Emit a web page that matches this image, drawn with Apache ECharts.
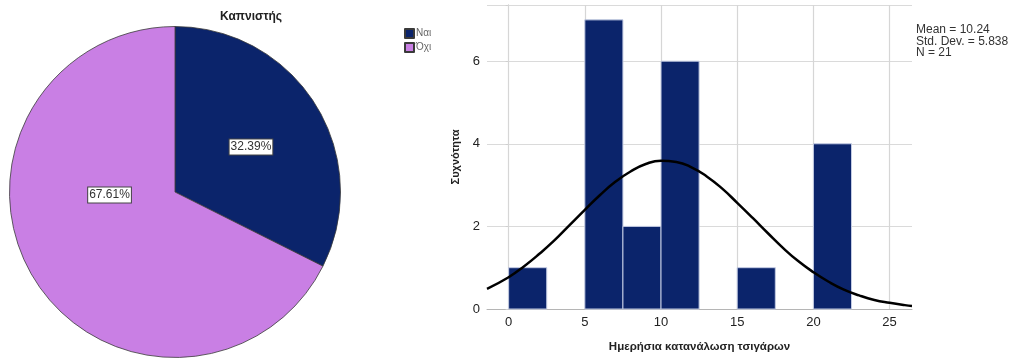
<!DOCTYPE html>
<html>
<head>
<meta charset="utf-8">
<script src="https://cdn.jsdelivr.net/npm/echarts@6/dist/echarts.min.js"></script>
<style>
html,body{margin:0;padding:0;background:#fff;}
#c{width:1009px;height:358px;}
</style>
</head>
<body>
<div id="c"></div>
<script>
// Pie data
const pieCategories = ['Ναι', 'Όχι'];
const pieCounts = [23, 48];
const pieColors = ['#0b246b', '#c97fe4'];

// Histogram data
const binStart = [0, 5, 7.5, 10, 15, 20];
const binEnd = [2.5, 7.5, 10, 12.5, 17.5, 22.5];
const binCounts = [1, 7, 2, 6, 1, 4];

// Normal curve
const curveX = [-1.42, 0, 1, 2, 3, 4, 5, 6, 7, 8, 9, 10, 11, 12, 13, 14, 15, 16, 17, 18, 19, 20, 21, 22, 23, 24, 25, 26, 26.47];
const curveY = [0.49, 0.77, 1.03, 1.33, 1.66, 2.03, 2.40, 2.76, 3.08, 3.33, 3.51, 3.59, 3.56, 3.43, 3.21, 2.92, 2.57, 2.21, 1.84, 1.48, 1.16, 0.89, 0.66, 0.47, 0.33, 0.22, 0.15, 0.094, 0.075];

const xTicks = [0, 5, 10, 15, 20, 25];
const yTicks = [0, 2, 4, 6];
const statsLines = ['Mean = 10.24', 'Std. Dev. = 5.838', 'N = 21'];

const FONT = '"Liberation Sans", Arial, sans-serif';

const chart = echarts.init(document.getElementById('c'), null, {renderer: 'canvas'});

const option = {
  animation: false,
  textStyle: {fontFamily: FONT},
  title: {
    text: 'Καπνιστής',
    left: 220, top: 11, padding: 0,
    textStyle: {fontSize: 12, fontWeight: 'bold', color: '#222', fontFamily: FONT}
  },
  legend: {
    orient: 'vertical',
    left: 404, top: 28, padding: 0,
    itemWidth: 9, itemHeight: 9, itemGap: 3,
    icon: 'rect',
    data: pieCategories,
    textStyle: {fontSize: 10, color: '#666', fontFamily: FONT, padding: [0, 0, 0, -3]}
  },
  grid: {left: 487, top: 5, right: 97, bottom: 49, containLabel: false},
  xAxis: {
    type: 'value',
    min: -1.42, max: 26.47,
    axisLine: {show: true, lineStyle: {color: '#b5b5b5', width: 1}},
    axisTick: {show: false},
    splitLine: {show: false},
    axisLabel: {customValues: xTicks, fontSize: 13, color: '#222', margin: 7, fontFamily: FONT},
    name: 'Ημερήσια κατανάλωση τσιγάρων',
    nameLocation: 'middle', nameGap: 32,
    nameTextStyle: {fontSize: 11.5, fontWeight: 'bold', color: '#222', fontFamily: FONT}
  },
  yAxis: {
    type: 'value',
    min: 0, max: 7.36, interval: 2,
    axisLine: {show: true, lineStyle: {color: '#b5b5b5', width: 1}},
    axisTick: {show: true, length: 3, lineStyle: {color: '#cfcfcf'}},
    splitLine: {show: true, lineStyle: {color: '#dadada', width: 1}},
    axisLabel: {fontSize: 13, color: '#222', margin: 7, fontFamily: FONT,
      formatter: v => yTicks.indexOf(v) >= 0 ? String(v) : ''},
    name: 'Συχνότητα',
    nameLocation: 'middle', nameGap: 26, nameRotate: 90,
    nameTextStyle: {fontSize: 11, fontWeight: 'bold', color: '#222', fontFamily: FONT}
  },
  graphic: [{
    type: 'text',
    left: 916, top: 24,
    style: {
      text: statsLines.join('\n'),
      font: '12px ' + FONT,
      lineHeight: 11.5,
      fill: '#333'
    }
  }],
  series: [
    {
      type: 'pie',
      center: [175, 192],
      radius: 165.5,
      startAngle: 90,
      clockwise: true,
      silent: true,
      data: pieCategories.map((n, i) => ({name: n, value: pieCounts[i], itemStyle: {color: pieColors[i]}})),
      itemStyle: {borderColor: '#3a3a3a', borderWidth: 0.8},
      label: {
        show: true,
        position: 'inside',
        formatter: '{d}%',
        fontSize: 12,
        color: '#333',
        fontFamily: FONT,
        backgroundColor: '#fff',
        borderColor: '#444',
        borderWidth: 1,
        padding: [2, 1, 1, 1]
      },
      labelLine: {show: false},
      labelLayout: function (p) {
        if (p.dataIndex === 0) return {dx: 3, dy: 0};
        return {dx: 7.5, dy: -42};
      },
      emphasis: {disabled: true}
    },
    {
      type: 'custom',
      silent: true,
      z: 3,
      data: binStart.map((s, i) => [s, binEnd[i], binCounts[i]]),
      encode: {x: [0, 1], y: 2},
      renderItem: function (params, api) {
        const p0 = api.coord([api.value(0), api.value(2)]);
        const p1 = api.coord([api.value(1), 0]);
        return {
          type: 'rect',
          shape: {x: p0[0], y: p0[1], width: p1[0] - p0[0], height: p1[1] - p0[1]},
          style: {fill: '#0b246b', stroke: '#c3cbe3', lineWidth: 1}
        };
      }
    },
    {
      type: 'line',
      silent: true,
      z: 4,
      smooth: true,
      symbol: 'none',
      clip: true,
      data: curveX.map((x, i) => [x, curveY[i]]),
      lineStyle: {color: '#000', width: 2.5},
      markLine: {
        silent: true,
        symbol: 'none',
        z: 1,
        label: {show: false},
        lineStyle: {color: '#d6d6d6', width: 1.2, type: 'solid'},
        data: xTicks.map(v => ({xAxis: v}))
      }
    }
  ]
};
chart.setOption(option);
</script>
</body>
</html>
